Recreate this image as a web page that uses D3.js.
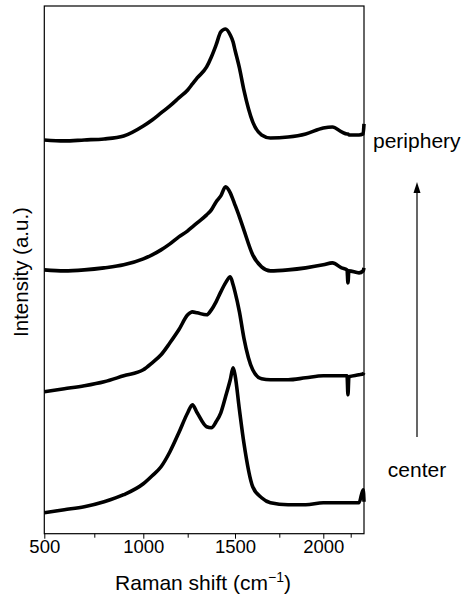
<!DOCTYPE html>
<html>
<head>
<meta charset="utf-8">
<script src="https://cdn.jsdelivr.net/npm/d3@7"></script>
<style>
  body { margin: 0; background: #fff; }
  svg { font-family: "Liberation Sans", Arial, Helvetica, sans-serif; }
  .axis path, .axis line { stroke: #000; }
  .axis text { font-size: 18.5px; fill: #000; }
</style>
</head>
<body>
<div id="chart"></div>
<script>
// Raman shift grid (cm-1), shared by all four spectra
var shift = [500,600,700,800,900,1000,1050,1100,1150,1200,1250,1275,1300,1350,1375,1400,1425,1450,1475,1490,1500,1525,1550,1600,1650,1700,1800,1900,2000,2050,2100,2130,2135,2140,2200,2225,2230];

// intensities (a.u., offset stacked)
var periphery = [394,393,394,395,398,408,414,421,428,436,444,450,456,467,477,489,502,505,499,492,484,466,444,412,399,396,397,400,406,407,402,400,400,399,399,400,410];
var second    = [264,263,264,266,269,275,279,284,290,297,303,307,311,319,324,332,338,347,341,334,329,317,304,279,267,263,264,266,269,271,266,264,251,263,261,263,266];
var third     = [142,145,148,152,158,164,171,179,191,204,219,222,221,219,224,232,242,251,257,249,242,222,196,164,155,154,154,156,158,158,158,158,139,157,159,160,161];
var center    = [21,24,27,32,39,50,58,67,82,101,121,129,121,107,106,112,121,137,154,166,159,124,91,47,36,31,29,29,31,31,31,31,31,31,31,44,32];

var spectra = [periphery, second, third, center];

var majorTicks = [500, 1000, 1500, 2000];
var minorTicks = [750, 1250, 1750, 2150];

var width = 462, height = 596;
var margin = {top: 6, right: 98, bottom: 61, left: 44};

var svg = d3.select('#chart').append('svg')
    .attr('width', width)
    .attr('height', height);

// the printed axis is not quite linear, so the scale follows its tick marks
var xScale = d3.scaleLinear()
    .domain([500, 750, 1000, 1250, 1500, 1750, 2000, 2150, 2230])
    .range([44.3, 94.3, 143.3, 187.7, 235, 279.3, 323.3, 350.7, 364]);

var yScale = d3.scaleLinear()
    .domain([0, 528])
    .range([height - margin.bottom - 1.3, margin.top]);

var line = d3.line()
    .x((d, i) => xScale(shift[i]))
    .y(d => yScale(d))
    .curve(d3.curveMonotoneX);

svg.selectAll('.spectrum')
    .data(spectra)
    .enter()
    .append('path')
    .attr('class', 'spectrum')
    .attr('d', line)
    .attr('fill', 'none')
    .attr('stroke', '#000')
    .attr('stroke-width', 3.6)
    .attr('stroke-linejoin', 'round');

var x0 = xScale(500), x1 = xScale(2230);
var y0 = yScale(0), y1 = yScale(528);

// frame
svg.append('rect')
    .attr('x', x0)
    .attr('y', y1)
    .attr('width', x1 - x0)
    .attr('height', y0 - y1)
    .attr('fill', 'none')
    .attr('stroke', '#000')
    .attr('stroke-width', 1.2);

var xAxis = d3.axisBottom(xScale)
    .tickValues(majorTicks)
    .tickSize(5)
    .tickPadding(1)
    .tickFormat(d3.format('d'));

var gx = svg.append('g')
    .attr('class', 'x axis')
    .attr('transform', `translate(0,${y0})`)
    .call(xAxis);
gx.select('.domain').remove();

svg.append('g')
    .attr('class', 'x axis minor')
    .attr('transform', `translate(0,${y0})`)
    .call(d3.axisBottom(xScale).tickValues(minorTicks).tickSize(4).tickFormat(''))
    .select('.domain').remove();

// axis titles
var xt = svg.append('text')
    .attr('x', 203)
    .attr('y', 590)
    .attr('text-anchor', 'middle')
    .style('font-size', '21px')
    .text('Raman shift (cm');
xt.append('tspan').attr('dy', -8).style('font-size', '14px').text('\u22121');
xt.append('tspan').attr('dy', 8).text(')');

svg.append('text')
    .attr('transform', 'translate(28,272) rotate(-90)')
    .attr('text-anchor', 'middle')
    .style('font-size', '20.5px')
    .text('Intensity (a.u.)');

// side labels and arrow
svg.append('text')
    .attr('x', 373)
    .attr('y', 148)
    .style('font-size', '21px')
    .text('periphery');

svg.append('text')
    .attr('x', 417)
    .attr('y', 477)
    .attr('text-anchor', 'middle')
    .style('font-size', '21px')
    .text('center');

svg.append('line')
    .attr('x1', 417).attr('x2', 417)
    .attr('y1', 437).attr('y2', 190)
    .attr('stroke', '#000')
    .attr('stroke-width', 1.2);

svg.append('path')
    .attr('d', 'M417,182 L413.5,193 L420.5,193 Z')
    .attr('fill', '#000');
</script>
</body>
</html>
